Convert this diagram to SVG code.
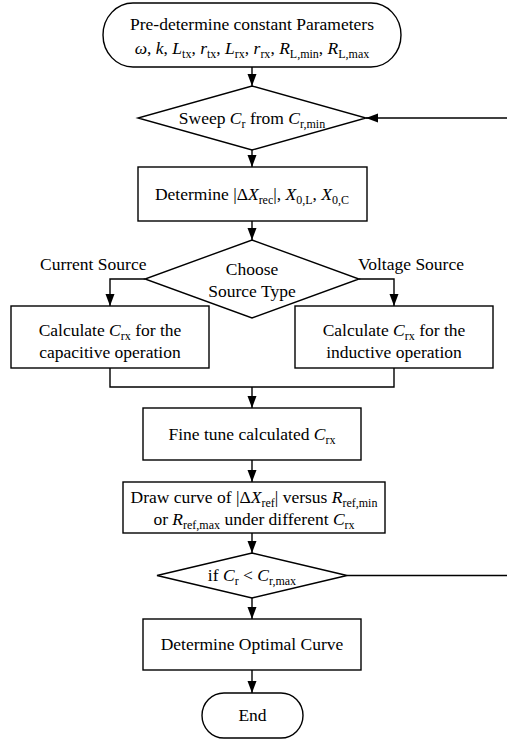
<svg xmlns="http://www.w3.org/2000/svg" width="507" height="740" viewBox="0 0 507 740">
<defs>
<style>
.t{font-family:"Liberation Serif","Times New Roman",serif;font-size:17.5px;fill:#000;text-anchor:middle}
.l{text-anchor:start}
.e{text-anchor:end}
.i{font-style:italic}
.s{font-size:12px}
.sh{fill:#fff;stroke:#000;stroke-width:1.4}
.c{fill:none;stroke:#000;stroke-width:1.4}
</style>
<marker id="a" markerUnits="userSpaceOnUse" markerWidth="12" markerHeight="10" refX="12" refY="5" orient="auto">
<path d="M0,0.5 L12,5 L0,9.5 z" fill="#000"/>
</marker>
</defs>
<rect width="507" height="740" fill="#fff"/>
<g id="connectors">
<line class="c" x1="252" y1="67" x2="252" y2="86" marker-end="url(#a)"/>
<line class="c" x1="507" y1="118" x2="366" y2="118" marker-end="url(#a)"/>
<line class="c" x1="252" y1="150" x2="252" y2="167" marker-end="url(#a)"/>
<line class="c" x1="252" y1="221" x2="252" y2="240" marker-end="url(#a)"/>
<polyline class="c" points="145,279 110,279 110,306" marker-end="url(#a)"/>
<polyline class="c" points="359,279 394,279 394,306" marker-end="url(#a)"/>
<polyline class="c" points="110,368 110,387 394,387 394,368"/>
<line class="c" x1="252" y1="387" x2="252" y2="408" marker-end="url(#a)"/>
<line class="c" x1="252" y1="460" x2="252" y2="482" marker-end="url(#a)"/>
<line class="c" x1="252" y1="533" x2="252" y2="553" marker-end="url(#a)"/>
<line class="c" x1="347" y1="575.5" x2="507" y2="575.5"/>
<line class="c" x1="252" y1="598" x2="252" y2="619" marker-end="url(#a)"/>
<line class="c" x1="252" y1="670" x2="252" y2="693" marker-end="url(#a)"/>
</g>
<g id="start">
<rect class="sh" x="103" y="3" width="298" height="64" rx="30" ry="32"/>
<text class="t" x="252" y="30">Pre-determine constant Parameters</text>
<text class="t" x="252" y="54"><tspan class="i">ω</tspan>, <tspan class="i">k</tspan>, <tspan class="i">L</tspan><tspan class="s" dy="4">tx</tspan><tspan dy="-4">, </tspan><tspan class="i">r</tspan><tspan class="s" dy="4">tx</tspan><tspan dy="-4">, </tspan><tspan class="i">L</tspan><tspan class="s" dy="4">rx</tspan><tspan dy="-4">, </tspan><tspan class="i">r</tspan><tspan class="s" dy="4">rx</tspan><tspan dy="-4">, </tspan><tspan class="i">R</tspan><tspan class="s" dy="4">L,min</tspan><tspan dy="-4">, </tspan><tspan class="i">R</tspan><tspan class="s" dy="4">L,max</tspan></text>
</g>
<g id="sweep">
<polygon class="sh" points="252,86 366,118 252,150 138,118"/>
<text class="t" x="252" y="124">Sweep <tspan class="i">C</tspan><tspan class="s" dy="4">r</tspan><tspan dy="-4"> from </tspan><tspan class="i">C</tspan><tspan class="s" dy="4">r,min</tspan></text>
</g>
<g id="determine">
<rect class="sh" x="138" y="167" width="229" height="54"/>
<text class="t" x="252" y="200">Determine |Δ<tspan class="i">X</tspan><tspan class="s" dy="4">rec</tspan><tspan dy="-4">|, </tspan><tspan class="i">X</tspan><tspan class="s" dy="4">0,L</tspan><tspan dy="-4">, </tspan><tspan class="i">X</tspan><tspan class="s" dy="4">0,C</tspan></text>
</g>
<g id="choose">
<polygon class="sh" points="252,240 359,279 252,318 145,279"/>
<text class="t" x="252" y="275">Choose</text>
<text class="t" x="252" y="297">Source Type</text>
</g>
<g id="labels">
<text class="t l" x="40" y="270">Current Source</text>
<text class="t e" x="464" y="270">Voltage Source</text>
</g>
<g id="capacitive">
<rect class="sh" x="11" y="306" width="198" height="62"/>
<text class="t" x="110" y="336">Calculate <tspan class="i">C</tspan><tspan class="s" dy="4">rx</tspan><tspan dy="-4"> for the</tspan></text>
<text class="t" x="110" y="358">capacitive operation</text>
</g>
<g id="inductive">
<rect class="sh" x="295" y="306" width="198" height="62"/>
<text class="t" x="394" y="336">Calculate <tspan class="i">C</tspan><tspan class="s" dy="4">rx</tspan><tspan dy="-4"> for the</tspan></text>
<text class="t" x="394" y="358">inductive operation</text>
</g>
<g id="finetune">
<rect class="sh" x="143" y="408" width="218" height="52"/>
<text class="t" x="252" y="440">Fine tune calculated <tspan class="i">C</tspan><tspan class="s" dy="4">rx</tspan></text>
</g>
<g id="draw">
<rect class="sh" x="123" y="482" width="262" height="51"/>
<text class="t" x="254" y="503">Draw curve of |Δ<tspan class="i">X</tspan><tspan class="s" dy="4">ref</tspan><tspan dy="-4">| versus </tspan><tspan class="i">R</tspan><tspan class="s" dy="4">ref,min</tspan></text>
<text class="t" x="254" y="525">or <tspan class="i">R</tspan><tspan class="s" dy="4">ref,max</tspan><tspan dy="-4"> under different </tspan><tspan class="i">C</tspan><tspan class="s" dy="4">rx</tspan></text>
</g>
<g id="ifcheck">
<polygon class="sh" points="252,553 347,575.5 252,598 157,575.5"/>
<text class="t" x="252" y="581">if <tspan class="i">C</tspan><tspan class="s" dy="4">r</tspan><tspan dy="-4"> &lt; </tspan><tspan class="i">C</tspan><tspan class="s" dy="4">r,max</tspan></text>
</g>
<g id="optimal">
<rect class="sh" x="143" y="619" width="218" height="51"/>
<text class="t" x="252" y="650">Determine Optimal Curve</text>
</g>
<g id="end">
<rect class="sh" x="202" y="693" width="101" height="45" rx="22" ry="22.5"/>
<text class="t" x="252.5" y="721">End</text>
</g>
</svg>
